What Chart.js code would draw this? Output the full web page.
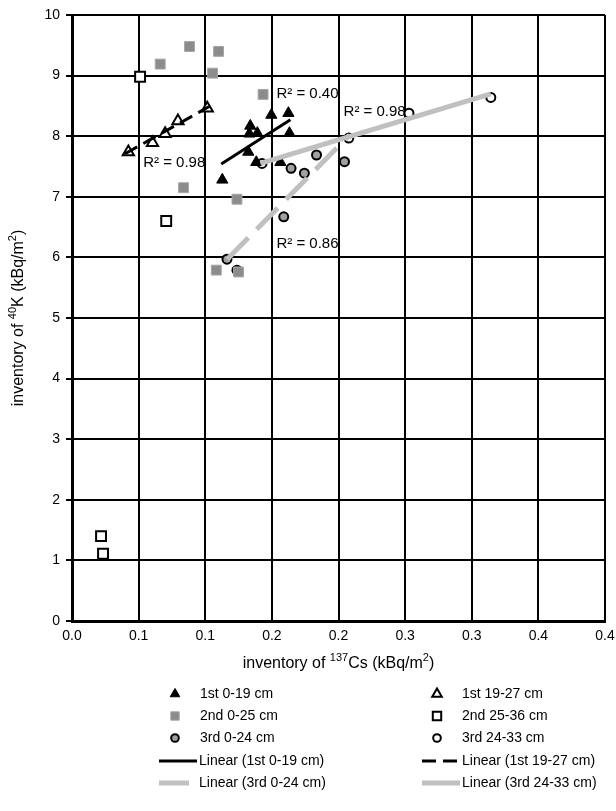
<!DOCTYPE html>
<html>
<head>
<meta charset="utf-8">
<script src="https://cdn.jsdelivr.net/npm/chart.js@4.4.0/dist/chart.umd.min.js"></script>
<style>
  body { margin: 0; background: #fff; }
  canvas { display: block; }
</style>
</head>
<body>
<canvas id="scatter" width="616" height="811"></canvas>
<script>
// inventory of 137Cs (x) and 40K (y), kBq/m2
const cs1stTop = [0.1338, 0.1331, 0.1391, 0.1496, 0.1624, 0.1632, 0.1323, 0.1383, 0.1564, 0.1128]
const k1stTop  = [8.17, 8.04, 8.05, 8.35, 8.38, 8.05, 7.74, 7.57, 7.57, 7.28]

const cs1stSub = [0.0423, 0.0604, 0.0699, 0.0795, 0.1015]
const k1stSub  = [7.74, 7.89, 8.04, 8.25, 8.46]

const cs2ndTop = [0.0882, 0.1100, 0.0662, 0.1055, 0.1434, 0.0837, 0.1238, 0.1083, 0.1250]
const k2ndTop  = [9.48, 9.40, 9.19, 9.04, 8.69, 7.15, 6.96, 5.79, 5.76]

const cs2ndSub = [0.0511, 0.0707, 0.0218, 0.0233]
const k2ndSub  = [8.98, 6.60, 1.40, 1.11]

const cs3rdTop = [0.1163, 0.1238, 0.1589, 0.1644, 0.1744, 0.1835, 0.2045]
const k3rdTop  = [5.97, 5.79, 6.67, 7.47, 7.39, 7.69, 7.58]

const cs3rdSub = [0.1426, 0.2077, 0.2529, 0.3143]
const k3rdSub  = [7.55, 7.97, 8.38, 8.64]

// trend line end points as drawn in the figure
const trend1stTopX = [0.112, 0.1639]
const trend1stTopY = [7.54, 8.27]
const trend1stSubX = [0.0398, 0.103]
const trend1stSubY = [7.71, 8.49]
const trend3rdTopX = [0.1165, 0.2083]
const trend3rdTopY = [5.97, 8.02]
const trend3rdSubX = [0.1414, 0.3143]
const trend3rdSubY = [7.55, 8.70]

const r2Text = ['R² = 0.40', 'R² = 0.98', 'R² = 0.86', 'R² = 0.98']
const r2X = [0.1534, 0.0534, 0.1534, 0.2038]
const r2Y = [8.70, 7.56, 6.22, 8.40]

const xTickLabels = ['0.0', '0.1', '0.1', '0.2', '0.2', '0.3', '0.3', '0.4', '0.4']

const FONT = '"Liberation Sans", Arial, sans-serif'

const pts = (xs, ys) => xs.map((x, i) => ({ x: x, y: ys[i] }))

const marker = (label, xs, ys, style, fill, border, radius, bw) => ({
    type: 'scatter',
    label: label,
    data: pts(xs, ys),
    pointStyle: style,
    backgroundColor: fill,
    borderColor: border,
    pointRadius: radius,
    pointBorderWidth: bw,
    order: 2
})

const trend = (label, xs, ys, color, width, dash) => ({
    type: 'line',
    label: label,
    data: pts(xs, ys),
    borderColor: color,
    borderWidth: width,
    borderDash: dash,
    pointRadius: 0,
    fill: false,
    order: 1
})

const datasets = [
    marker('1st 0-19 cm', cs1stTop, k1stTop, 'triangle', '#000', '#000', 6.5, 1),
    marker('1st 19-27 cm', cs1stSub, k1stSub, 'triangle', '#fff', '#000', 6.5, 2),
    marker('2nd 0-25 cm', cs2ndTop, k2ndTop, 'rect', '#8c8c8c', '#a6a6a6', 7, 1),
    marker('2nd 25-36 cm', cs2ndSub, k2ndSub, 'rect', '#fff', '#000', 7, 2),
    marker('3rd 0-24 cm', cs3rdTop, k3rdTop, 'circle', '#a0a0a0', '#000', 4.5, 2),
    marker('3rd 24-33 cm', cs3rdSub, k3rdSub, 'circle', '#fff', '#000', 4.5, 2),
    trend('Linear (1st 0-19 cm)', trend1stTopX, trend1stTopY, '#000', 3, []),
    trend('Linear (1st 19-27 cm)', trend1stSubX, trend1stSubY, '#000', 3, [14, 7]),
    trend('Linear (3rd 0-24 cm)', trend3rdTopX, trend3rdTopY, '#c0c0c0', 5, [30, 12]),
    trend('Linear (3rd 24-33 cm)', trend3rdSubX, trend3rdSubY, '#c0c0c0', 5, [])
]

// text with raised small parts, parts = [[text, isSup], ...]
function drawRich(ctx, parts, cx, cy, size) {
    const sup = Math.round(size * 0.68)
    let w = 0
    parts.forEach(p => {
        ctx.font = (p[1] ? sup : size) + 'px ' + FONT
        w += ctx.measureText(p[0]).width
    })
    let x = cx - w / 2
    ctx.textAlign = 'left'
    ctx.textBaseline = 'alphabetic'
    parts.forEach(p => {
        ctx.font = (p[1] ? sup : size) + 'px ' + FONT
        ctx.fillText(p[0], x, cy + size * 0.35 - (p[1] ? size * 0.4 : 0))
        x += ctx.measureText(p[0]).width
    })
}

const extras = {
    id: 'extras',
    afterDatasetsDraw(chart) {
        const ctx = chart.ctx
        const sx = chart.scales.x, sy = chart.scales.y
        ctx.save()
        ctx.fillStyle = '#000'
        ctx.font = '15px ' + FONT
        ctx.textAlign = 'left'
        ctx.textBaseline = 'middle'
        r2Text.forEach((t, i) => ctx.fillText(t, sx.getPixelForValue(r2X[i]), sy.getPixelForValue(r2Y[i])))
        ctx.restore()
    },
    afterDraw(chart) {
        const ctx = chart.ctx
        const area = chart.chartArea
        ctx.save()
        ctx.fillStyle = '#000'
        // axis titles
        drawRich(ctx, [['inventory of ', false], ['137', true], ['Cs (kBq/m', false], ['2', true], [')', false]],
            (area.left + area.right) / 2, 662, 16)
        ctx.save()
        ctx.translate(17, (area.top + area.bottom) / 2)
        ctx.rotate(-Math.PI / 2)
        drawRich(ctx, [['inventory of ', false], ['40', true], ['K (kBq/m', false], ['2', true], [')', false]], 0, 0, 16)
        ctx.restore()

        // two-column legend
        const rowY = [694, 716, 738, 761, 783]
        const markX = [175, 437]
        const lineX = [159, 422]
        chart.data.datasets.forEach((ds, i) => {
            const col = i % 2
            const y = rowY[Math.floor(i / 2)]
            let tx
            if (ds.type === 'line') {
                ctx.save()
                ctx.strokeStyle = ds.borderColor
                ctx.lineWidth = ds.borderWidth
                ctx.setLineDash(ds.borderDash)
                ctx.beginPath()
                ctx.moveTo(lineX[col], y)
                ctx.lineTo(lineX[col] + 38, y)
                ctx.stroke()
                ctx.restore()
                tx = lineX[col] + 40
            } else {
                ctx.save()
                ctx.fillStyle = ds.backgroundColor
                ctx.strokeStyle = ds.borderColor
                ctx.lineWidth = ds.pointBorderWidth
                Chart.helpers.drawPoint(ctx, {
                    pointStyle: ds.pointStyle,
                    radius: ds.pointRadius * 0.85,
                    rotation: 0,
                    borderWidth: ds.pointBorderWidth
                }, markX[col], y)
                ctx.restore()
                tx = markX[col] + 25
            }
            ctx.font = '14px ' + FONT
            ctx.textAlign = 'left'
            ctx.textBaseline = 'middle'
            ctx.fillStyle = '#000'
            ctx.fillText(ds.label, tx, y)
        })
        ctx.restore()
    }
}

new Chart(document.getElementById('scatter'), {
    type: 'scatter',
    data: { datasets: datasets },
    options: {
        responsive: false,
        animation: false,
        layout: { padding: { left: 0, right: 11, top: 15, bottom: 0 } },
        plugins: {
            legend: { display: false },
            tooltip: { enabled: false },
            title: { display: false }
        },
        scales: {
            x: {
                type: 'linear',
                min: 0,
                max: 0.4,
                afterFit: (scale) => {
                    scale.height = 190
                    scale.paddingLeft = 0
                    scale.paddingRight = 0
                },
                afterBuildTicks: (scale) => {
                    scale.ticks = xTickLabels.map((t, i) => ({ value: i * 0.05 }))
                },
                ticks: {
                    callback: (v, i) => xTickLabels[i],
                    font: { family: FONT, size: 14 },
                    color: '#000',
                    padding: 7,
                    maxRotation: 0
                },
                grid: { color: '#000', lineWidth: 2, drawTicks: false },
                border: { color: '#000', width: 3 }
            },
            y: {
                min: 0,
                max: 10,
                afterFit: (scale) => { scale.width = 72 },
                ticks: {
                    stepSize: 1,
                    font: { family: FONT, size: 14 },
                    color: '#000',
                    padding: 6
                },
                grid: { color: '#000', lineWidth: 2, tickLength: 6 },
                border: { color: '#000', width: 3 }
            }
        }
    },
    plugins: [extras]
})
</script>
</body>
</html>
